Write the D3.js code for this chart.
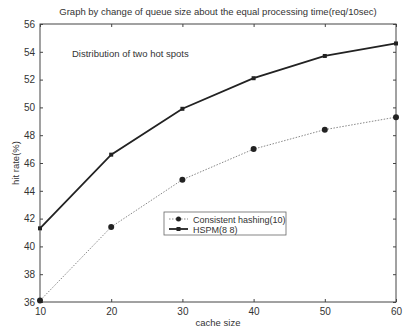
<!DOCTYPE html>
<html>
<head>
<meta charset="utf-8">
<script src="https://d3js.org/d3.v7.min.js"></script>
<style>
  body { margin: 0; background: #fff; }
  svg text { font-family: "Liberation Sans", Arial, sans-serif; fill: #333; }
</style>
</head>
<body>
<div id="chart"></div>
<script>
// chart data
const cacheSizes = [10, 20, 30, 40, 50, 60];
const consistentHashing = [36.1, 41.4, 44.8, 47.0, 48.4, 49.3];
const hspm = [41.3, 46.6, 49.9, 52.1, 53.7, 54.6];
const yTicks = [36, 38, 40, 42, 44, 46, 48, 50, 52, 54, 56];

const width = 403, height = 332;
const margin = {left: 40, right: 7, top: 24, bottom: 30};

const x = d3.scaleLinear().domain([10, 60]).range([margin.left, width - margin.right]);
const y = d3.scaleLinear().domain([36, 56]).range([height - margin.bottom, margin.top]);

const svg = d3.select("#chart").append("svg")
  .attr("width", width).attr("height", height);

// frame
svg.append("rect")
  .attr("x", margin.left).attr("y", margin.top)
  .attr("width", x(60) - x(10)).attr("height", y(36) - y(56))
  .attr("fill", "none").attr("stroke", "#444").attr("stroke-width", 1);

// axes, ticks point inward like matlab
const xAxis = svg.append("g")
  .attr("transform", `translate(0,${y(36)})`)
  .call(d3.axisBottom(x).tickValues(cacheSizes).tickSize(-3).tickPadding(6));
svg.append("g")
  .attr("transform", `translate(0,${y(56)})`)
  .call(d3.axisTop(x).tickValues(cacheSizes).tickSize(-3).tickFormat(""));
const yAxis = svg.append("g")
  .attr("transform", `translate(${margin.left},0)`)
  .call(d3.axisLeft(y).tickValues(yTicks).tickSize(-3).tickPadding(5));
svg.append("g")
  .attr("transform", `translate(${x(60)},0)`)
  .call(d3.axisRight(y).tickValues(yTicks).tickSize(-3).tickFormat(""));

svg.selectAll(".domain").remove();
svg.selectAll(".tick line").attr("stroke", "#444");
svg.selectAll(".tick text").attr("font-size", 10).attr("fill", "#444");

// titles
svg.append("text").attr("x", 218).attr("y", 15).attr("text-anchor", "middle")
  .attr("font-size", 9.5).text("Graph by change of queue size about the equal processing time(req/10sec)");
svg.append("text").attr("x", 218).attr("y", 326).attr("text-anchor", "middle")
  .attr("font-size", 9.5).text("cache size");
svg.append("text").attr("transform", `translate(19,${(y(36) + y(56)) / 2}) rotate(-90)`)
  .attr("text-anchor", "middle").attr("font-size", 9.5).text("hit rate(%)");
svg.append("text").attr("x", 72).attr("y", 57)
  .attr("font-size", 9.5).text("Distribution of two hot spots");

const line = d3.line().x((d, i) => x(cacheSizes[i])).y(d => y(d));

// consistent hashing, dotted gray line with round markers
svg.append("path").datum(consistentHashing)
  .attr("d", line).attr("fill", "none")
  .attr("stroke", "#888").attr("stroke-width", 1).attr("stroke-dasharray", "1.5,1.5");
svg.selectAll(".ch").data(consistentHashing).enter().append("circle")
  .attr("cx", (d, i) => x(cacheSizes[i])).attr("cy", d => y(d))
  .attr("r", 3).attr("fill", "#222");

// hspm, solid dark line with small markers
svg.append("path").datum(hspm)
  .attr("d", line).attr("fill", "none")
  .attr("stroke", "#222").attr("stroke-width", 1.8);
svg.selectAll(".hs").data(hspm).enter().append("rect")
  .attr("x", (d, i) => x(cacheSizes[i]) - 2).attr("y", d => y(d) - 2)
  .attr("width", 4).attr("height", 4).attr("fill", "#222");

// legend
const lg = svg.append("g").attr("transform", "translate(164,212)");
lg.append("rect").attr("width", 122).attr("height", 23)
  .attr("fill", "#fff").attr("stroke", "#666").attr("stroke-width", 0.8);
lg.append("line").attr("x1", 5).attr("x2", 24).attr("y1", 7).attr("y2", 7)
  .attr("stroke", "#888").attr("stroke-dasharray", "1.5,1.5");
lg.append("circle").attr("cx", 14.5).attr("cy", 7).attr("r", 2.5).attr("fill", "#222");
lg.append("text").attr("x", 29).attr("y", 10.5).attr("font-size", 9).text("Consistent hashing(10)");
lg.append("line").attr("x1", 5).attr("x2", 24).attr("y1", 17).attr("y2", 17)
  .attr("stroke", "#222").attr("stroke-width", 1.8);
lg.append("rect").attr("x", 12.5).attr("y", 15).attr("width", 4).attr("height", 4).attr("fill", "#222");
lg.append("text").attr("x", 29).attr("y", 20.5).attr("font-size", 9).text("HSPM(8 8)");
</script>
</body>
</html>
